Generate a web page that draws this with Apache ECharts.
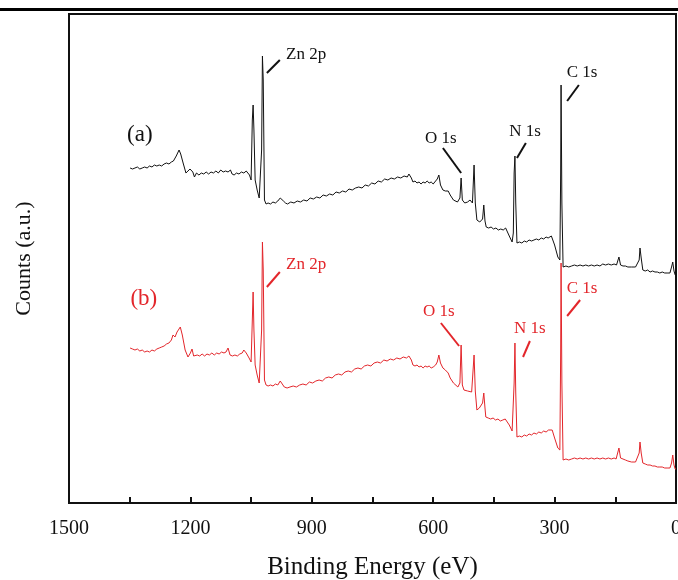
<!DOCTYPE html>
<html>
<head>
<meta charset="utf-8">
<script src="https://cdn.jsdelivr.net/npm/echarts@6/dist/echarts.min.js"></script>
<style>
    html, body { margin: 0; padding: 0; background: #fff; }
    #chart { width: 678px; height: 580px; }
</style>
</head>
<body>
<div id="chart"></div>
<script>
// binding energy (eV) and counts (a.u., offset)
let spectrumA = [[1349,335],[1343,334],[1337,335],[1331,336],[1325,334],[1319,335],[1313,336],[1307,335],[1301,337],[1295,336],[1289,338],[1283,337],[1277,338],[1271,337],[1265,339],[1259,340],[1253,339],[1247,341],[1242,342],[1238,344],[1235,347],[1231,349],[1228,353],[1224,349],[1218,340],[1211,330],[1206,332],[1201,334],[1198,335],[1194,331],[1190,326],[1185,330],
    [1179,328],[1173,330],[1167,329],[1161,331],[1155,329],[1149,331],[1143,330],[1137,332],[1131,330],[1125,333],[1119,331],[1113,332],[1107,331],[1101,333],[1097,329],[1092,328],[1086,330],[1080,329],[1074,331],[1068,330],[1062,332],[1058,330],[1054,328],[1050,323],
    [1047,383],[1045,398],[1043,373],[1040,323],[1035,313],[1030,305],[1027,303],[1024,353],[1022,447],[1020,423],[1017,303],
    [1013,299],[1008,300],[1002,299],[996,301],[990,300],[984,302],[978,305],[974,306],[970,302],[965,300],[960,299],
    [952,301],[944,300],[936,302],[928,301],[920,303],[912,302],[904,305],[896,304],[888,306],[880,305],[872,308],[864,307],[856,309],[848,308],[840,311],[832,310],[824,312],[816,311],[808,314],[800,313],[792,315],[784,316],[776,315],[768,318],[760,317],[752,320],[744,319],[736,322],[728,321],[720,324],[712,323],[704,325],[696,324],[688,326],[680,325],[672,327],[664,326],[660,329],[657,331],[654,325],[650,321],
    [645,322],[640,320],[635,321],[630,319],[625,321],[620,320],[615,322],[610,320],[605,321],[600,319],[596,320],[590,324],[586,328],[582,318],[576,313],[570,312],[566,310],[563,312],[558,308],[550,303],[540,301],[534,305],[531,325],[528,303],[522,300],[515,301],[509,303],[503,300],[499,338],[496,300],[492,283],[485,281],[478,284],[475,298],[472,282],
    [469,276],[463,275],[457,276],[451,274],[445,275],[439,273],[433,274],[427,273],[421,275],[418,276],[412,267],[405,261],[402,270],[400,330],[398,347],[396,300],
    [393,260],[387,261],[381,260],[375,262],[369,261],[363,263],[357,262],[351,263],[345,264],[339,263],[333,265],[327,264],[321,266],[316,265],[308,267],[300,258],[292,246],[287,243],[285,330],[284,418],[282,300],
    [279,236],[272,237],[265,236],[258,237],[251,238],[244,237],[237,238],[230,237],[223,238],[216,237],[209,238],[202,237],[195,238],[188,237],[181,239],[174,238],[167,239],[160,238],[153,239],[147,238],[145,239],[141,246],[137,238],[131,237],[125,237],[119,236],[115,235],[110,236],[106,235],[100,236],[96,236],[91,243],[89,255],[86,245],[82,233],
    [76,232],[70,233],[64,231],[58,232],[52,231],[46,231],[40,230],[34,231],[28,230],[22,230],[15,230],[11,236],[8,241],[5,232],[2,228],[0,228]];

let spectrumB = [[1349,155],[1343,154],[1337,153],[1331,154],[1325,152],[1319,153],[1313,151],[1307,152],[1301,151],[1295,153],[1289,152],[1283,154],[1277,155],[1271,156],[1265,157],[1259,159],[1253,160],[1247,163],[1243,168],[1238,166],[1233,171],[1229,172],[1225,176],[1220,168],[1213,153],[1206,146],[1200,150],[1196,154],[1192,147],[1189,146],
    [1183,148],[1177,147],[1171,149],[1165,147],[1159,149],[1153,148],[1147,150],[1141,148],[1135,150],[1129,149],[1123,151],[1117,150],[1112,151],[1107,155],[1102,148],[1096,147],[1090,148],[1084,147],[1078,149],[1072,150],[1068,153],[1062,150],[1055,145],[1050,141],
    [1047,183],[1045,211],[1043,173],[1040,138],[1035,128],[1030,120],[1027,120],[1024,173],[1022,261],[1020,233],[1017,123],
    [1013,118],[1008,117],[1002,118],[996,117],[990,119],[984,118],[978,122],[974,121],[968,116],[961,115],
    [954,116],[946,117],[938,116],[930,118],[922,119],[914,118],[906,121],[898,120],[890,122],[882,123],[874,122],[866,125],[858,126],[850,125],[842,128],[834,129],[826,128],[818,131],[810,132],[802,131],[794,134],[786,135],[778,134],[770,137],[762,138],[754,137],[746,140],[738,141],[730,140],[722,143],[714,142],[706,144],[698,143],[690,145],[682,144],[674,146],[666,145],[660,147],[657,149],[654,143],[650,138],
    [645,137],[640,138],[635,136],[630,137],[625,135],[620,137],[615,136],[610,137],[605,135],[600,136],[594,138],[590,141],[586,148],[582,140],[576,135],[570,133],[563,130],[558,125],[550,120],[539,116],[534,120],[531,158],[528,118],[524,113],[515,112],[505,111],[502,113],[499,148],[496,112],[492,93],[486,95],[478,100],[475,110],[472,95],
    [470,86],[464,85],[458,84],[452,85],[446,83],[440,84],[434,82],[428,83],[422,84],[418,85],[412,78],[405,72],[403,70],[400,120],[398,160],[396,110],
    [393,66],[387,67],[381,66],[375,68],[369,67],[363,69],[357,68],[351,70],[345,69],[339,71],[333,70],[327,72],[321,71],[315,73],[306,73],[300,65],[292,55],[287,53],[285,150],[284,240],[282,120],
    [279,43],[272,44],[265,43],[258,44],[251,45],[244,44],[237,45],[230,44],[223,45],[216,44],[209,45],[202,44],[195,45],[188,44],[181,45],[174,44],[167,45],[160,44],[153,45],[148,44],[144,46],[141,55],[137,45],[131,44],[125,43],[119,42],[115,41],[110,41],[106,40],[100,41],[96,41],[91,50],[89,61],[86,50],[82,40],
    [76,39],[70,38],[64,38],[58,37],[52,37],[46,36],[40,36],[34,36],[28,35],[22,35],[15,35],[11,40],[8,48],[5,38],[2,34],[0,34]];

let peakNames = ['Zn 2p', 'O 1s', 'N 1s', 'C 1s'];
let sampleNames = ['(a)', '(b)'];
let xTicks = [1500, 1200, 900, 600, 300, 0];

let black = '#111111';
let red = '#e3262b';
let serif = '"Liberation Serif", "Times New Roman", serif';

// label placement (data coords) : [text position, leader start, leader end]
let notesA = [
    [[914, 448], [1011, 430], [979, 443]],
    [[581, 364], [576, 355], [531, 330]],
    [[373, 371], [393, 345], [371, 360]],
    [[232, 430], [269, 402], [240, 418]]
];
let notesB = [
    [[914, 238], [1011, 216], [979, 231]],
    [[586, 191], [581, 180], [536, 157]],
    [[361, 174], [378, 146], [361, 162]],
    [[232, 214], [269, 187], [237, 203]]
];

function buildMarks(notes, sample, samplePos, color) {
    let points = notes.map(function (n, i) {
        return {coord: n[0], name: peakNames[i], label: {formatter: peakNames[i]}};
    });
    points.push({coord: samplePos, name: sample, label: {formatter: sample, fontSize: 23}});
    return {
        markPoint: {
            symbol: 'circle',
            symbolSize: 0,
            silent: true,
            label: {show: true, position: 'inside', color: color, fontFamily: serif, fontSize: 17},
            data: points
        },
        markLine: {
            symbol: 'none',
            silent: true,
            label: {show: false},
            lineStyle: {color: color, width: 2, type: 'solid'},
            data: notes.map(function (n) {
                return [{coord: n[1]}, {coord: n[2]}];
            })
        }
    };
}

let chart = echarts.init(document.getElementById('chart'));

let marksA = buildMarks(notesA, sampleNames[0], [1325, 368], black);
let marksB = buildMarks(notesB, sampleNames[1], [1315, 204], red);

let option = {
    backgroundColor: '#fff',
    animation: false,
    grid: {
        left: 69, right: 2, top: 14, bottom: 77,
        containLabel: false,
        outerBoundsMode: 'none',
        show: true,
        borderColor: black,
        borderWidth: 2
    },
    xAxis: {
        type: 'value',
        inverse: true,
        min: xTicks[xTicks.length - 1],
        max: xTicks[0],
        interval: 300,
        name: 'Binding Energy (eV)',
        nameLocation: 'middle',
        nameGap: 52,
        nameTextStyle: {fontFamily: serif, fontSize: 25, color: black},
        axisLine: {lineStyle: {color: black, width: 2}},
        axisTick: {inside: true, length: 6, lineStyle: {color: black, width: 2}},
        minorTick: {show: true, splitNumber: 2, length: 6, lineStyle: {color: black, width: 2}},
        axisLabel: {
            fontFamily: serif, fontSize: 20, color: black, margin: 16,
            formatter: function (v) { return String(v); }
        },
        splitLine: {show: false}
    },
    yAxis: {
        type: 'value',
        min: 0,
        max: 489,
        name: 'Counts (a.u.)',
        nameLocation: 'middle',
        nameRotate: 90,
        nameGap: 34,
        nameTextStyle: {fontFamily: serif, fontSize: 22, color: black},
        axisLine: {show: true, lineStyle: {color: black, width: 2}},
        axisTick: {show: false},
        axisLabel: {show: false},
        splitLine: {show: false}
    },
    series: [
        Object.assign({
            name: sampleNames[0],
            type: 'line',
            data: spectrumA,
            showSymbol: false,
            lineStyle: {color: black, width: 1},
            itemStyle: {color: black}
        }, marksA),
        Object.assign({
            name: sampleNames[1],
            type: 'line',
            data: spectrumB,
            showSymbol: false,
            lineStyle: {color: red, width: 1},
            itemStyle: {color: red}
        }, marksB)
    ],
    graphic: [
        {
            type: 'line',
            shape: {x1: 0, y1: 9.5, x2: 678, y2: 9.5},
            style: {stroke: '#000', lineWidth: 3},
            silent: true
        }
    ]
};

chart.setOption(option);
</script>
</body>
</html>
